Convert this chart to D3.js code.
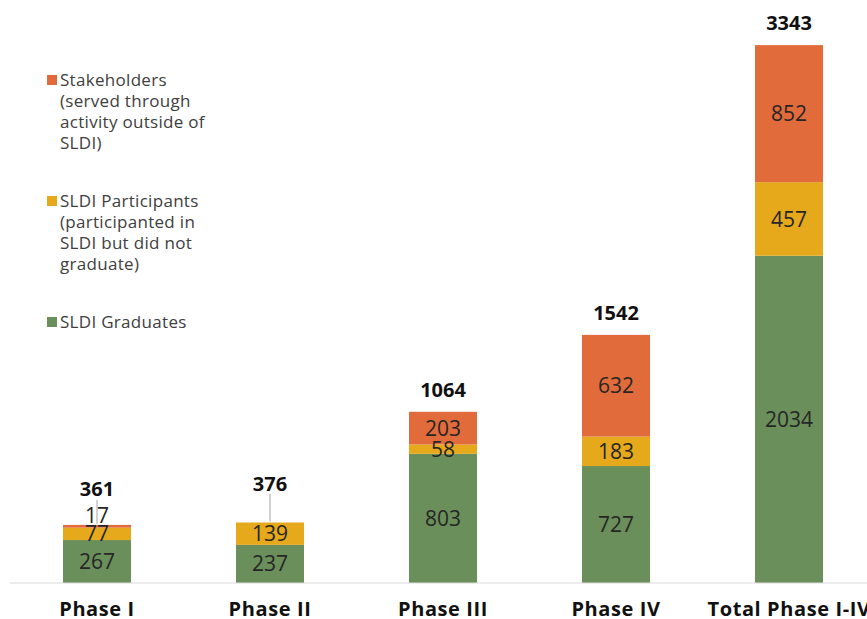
<!DOCTYPE html>
<html>
<head>
<meta charset="utf-8">
<script src="https://cdn.jsdelivr.net/npm/d3@7"></script>
<style>
  body { margin: 0; background: #fff; }
  svg { font-family: "Open Sans", "Liberation Sans", sans-serif; }
</style>
</head>
<body>
<svg id="canvas" width="867" height="619"></svg>
<script>
'use strict';

/* chart data */
var phases = ['Phase I', 'Phase II', 'Phase III', 'Phase IV', 'Total Phase I-IV'];
var graduates = [267, 237, 803, 727, 2034];
var participants = [77, 139, 58, 183, 457];
var stakeholders = [17, 0, 203, 632, 852];
var totals = [361, 376, 1064, 1542, 3343];

var seriesKeys = ['graduates', 'participants', 'stakeholders'];
var seriesColors = ['#6a8f5a', '#e5a91b', '#e26b3b'];
var legendLines = [
  ['Stakeholders', '(served through', 'activity outside of', 'SLDI)'],
  ['SLDI Participants', '(participanted in', 'SLDI but did not', 'graduate)'],
  ['SLDI Graduates']
];

/* build rows for d3.stack */
var rows = phases.map(function(p, i){
  return {phase: p, graduates: graduates[i], participants: participants[i],
          stakeholders: stakeholders[i], total: totals[i]};
});

var svg = d3.select('#canvas');
var baseY = 583;

var x = d3.scaleBand()
  .domain(phases)
  .range([10.5, 875.5])
  .paddingInner(0.607)
  .paddingOuter(0.3035);

var y = d3.scaleLinear()
  .domain([0, 3500])
  .range([baseY, baseY - 3500 * 0.1609]);

var color = d3.scaleOrdinal().domain(seriesKeys).range(seriesColors);

var stacked = d3.stack().keys(seriesKeys)(rows);

/* bars */
var layers = svg.append('g').attr('id', 'bars')
  .selectAll('g')
  .data(stacked)
  .enter().append('g')
    .attr('fill', function(d){ return color(d.key); });

layers.selectAll('rect')
  .data(function(d){ return d; })
  .enter().append('rect')
    .attr('x', function(d){ return x(d.data.phase); })
    .attr('width', x.bandwidth())
    .attr('y', function(d){ return y(d[1]); })
    .attr('height', function(d){ return y(d[0]) - y(d[1]); });

/* baseline axis */
var xAxis = d3.axisBottom(x).tickSize(0).tickPadding(19);
var axisG = svg.append('g')
  .attr('id', 'bottom-axis')
  .attr('transform', 'translate(0,' + baseY + ')')
  .call(xAxis);
axisG.select('.domain').remove();
axisG.append('line')
  .attr('x1', 10).attr('x2', 867)
  .attr('stroke', '#d9d9d9').attr('stroke-width', 1);
axisG.selectAll('.tick text')
  .attr('fill', '#111')
  .style('font-family', '"Open Sans", sans-serif')
  .style('font-size', '20px')
  .style('font-weight', 'bold')
  .style('letter-spacing', '0.6px');

/* leader lines for the small bars (Phase I, Phase II) */
var leaders = [{phase: 'Phase I', y1: 500}, {phase: 'Phase II', y1: 494}];
svg.append('g').attr('id', 'leaders')
  .selectAll('line')
  .data(leaders)
  .enter().append('line')
    .attr('x1', function(d){ return x(d.phase) + x.bandwidth() / 2; })
    .attr('x2', function(d){ return x(d.phase) + x.bandwidth() / 2; })
    .attr('y1', function(d){ return d.y1; })
    .attr('y2', function(d){
      var r = rows.find(function(e){ return e.phase === d.phase; });
      return y(r.total) - 1;
    })
    .attr('stroke', '#a6a6a6').attr('stroke-width', 1);

/* segment value labels */
var segLabels = [];
stacked.forEach(function(layer){
  layer.forEach(function(d){
    var v = d[1] - d[0];
    if (v <= 0) return;
    var cy = (y(d[0]) + y(d[1])) / 2;
    /* the thin stakeholder slice of Phase I is labelled above the bar */
    if (d.data.phase === 'Phase I' && layer.key === 'stakeholders') cy = y(d[1]) - 9;
    segLabels.push({phase: d.data.phase, value: v, cy: cy});
  });
});
svg.append('g').attr('id', 'seg-labels')
  .selectAll('text')
  .data(segLabels)
  .enter().append('text')
    .attr('x', function(d){ return x(d.phase) + x.bandwidth() / 2; })
    .attr('y', function(d){ return d.cy; })
    .attr('dy', '0.36em')
    .attr('text-anchor', 'middle')
    .attr('fill', '#262626')
    .style('font-size', '21px')
    .text(function(d){ return d.value; });

/* totals above each bar */
var totalOffset = {'Phase I': 36, 'Phase II': 39};
svg.append('g').attr('id', 'totals')
  .selectAll('text')
  .data(rows)
  .enter().append('text')
    .attr('x', function(d){ return x(d.phase) + x.bandwidth() / 2; })
    .attr('y', function(d){ return y(d.total) - (totalOffset[d.phase] || 22); })
    .attr('dy', '0.36em')
    .attr('text-anchor', 'middle')
    .attr('fill', '#111')
    .style('font-size', '20px')
    .style('font-weight', 'bold')
    .text(function(d){ return d.total; });

/* legend, top entry first */
var legendTop = [80, 201, 322];
var legendKeys = ['stakeholders', 'participants', 'graduates'];
var legend = svg.append('g').attr('id', 'legend')
  .selectAll('g')
  .data(legendKeys)
  .enter().append('g')
    .attr('transform', function(d, i){ return 'translate(47,' + legendTop[i] + ')'; });
legend.append('rect')
  .attr('x', 0).attr('y', -5)
  .attr('width', 10).attr('height', 10)
  .attr('fill', function(d){ return color(d); });
legend.append('text')
  .attr('fill', '#404040')
  .style('font-size', '17px')
  .style('letter-spacing', '0.3px')
  .selectAll('tspan')
  .data(function(d, i){ return legendLines[i]; })
  .enter().append('tspan')
    .attr('x', 13)
    .attr('y', function(d, i){ return i * 21; })
    .attr('dy', '0.36em')
    .text(function(d){ return d; });
</script>
</body>
</html>
